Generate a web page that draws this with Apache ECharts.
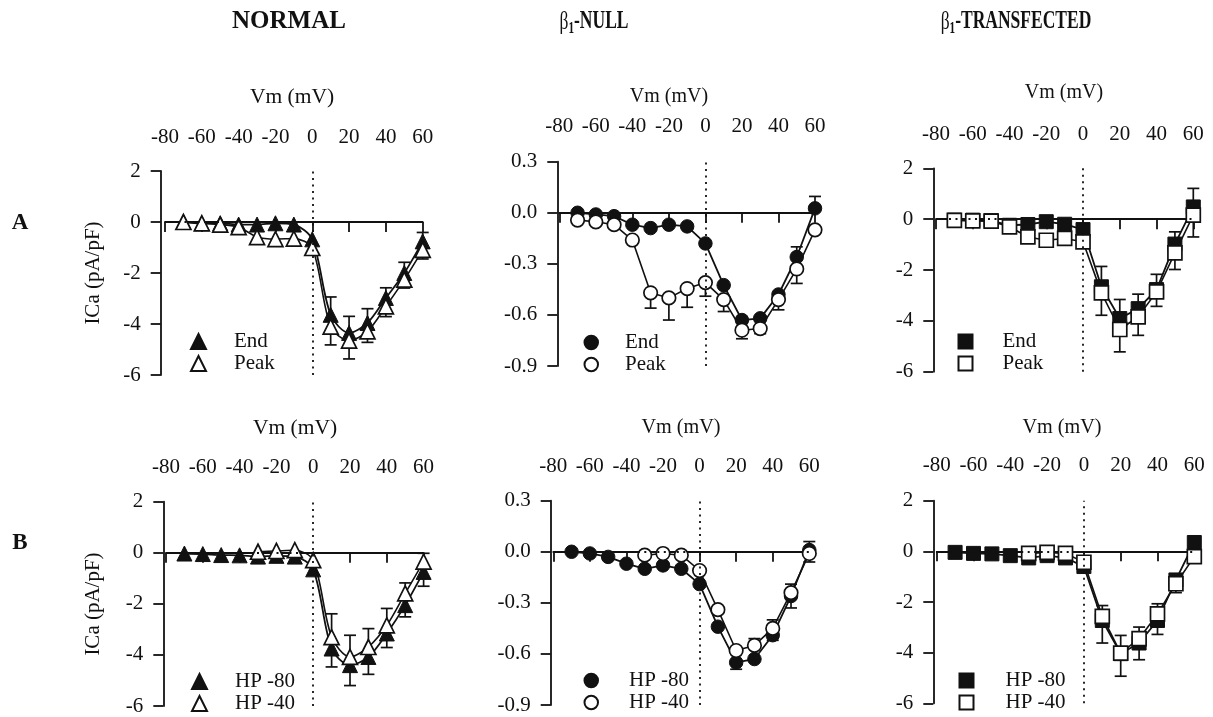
<!DOCTYPE html>
<html>
<head>
<meta charset="utf-8">
<script src="https://cdn.jsdelivr.net/npm/echarts@6/dist/echarts.min.js"></script>
<style>
  html, body { margin: 0; padding: 0; background: #fff; }
  #chart { width: 1213px; height: 717px; }
</style>
</head>
<body>
<div id="chart"></div>
<script>
// Test potentials (mV) and axis ticks
const voltages = [-70, -60, -50, -40, -30, -20, -10, 0, 10, 20, 30, 40, 50, 60];
const vmTicks = [-80, -60, -40, -20, 0, 20, 40, 60];
const densityTicks = [-6, -4, -2, 0, 2];
const nullTicks = [-0.9, -0.6, -0.3, 0.0, 0.3];

// Row A: end vs peak current density (pA/pF)
const normalEndA  = [0, -0.05, -0.05, -0.1, -0.1, -0.05, -0.1, -0.68, -3.64, -4.35, -3.96, -2.98, -2.0, -0.76];
const normalPeakA = [0, -0.05, -0.1, -0.2, -0.59, -0.67, -0.65, -1.02, -4.1, -4.65, -4.29, -3.31, -2.26, -1.09];
const normalEndErrA  = [null, null, null, null, null, null, null, null, 0.7, 0.65, 0.56, 0.4, 0.42, 0.35];
const normalPeakErrA = [null, null, null, null, null, null, null, null, 0.72, 0.72, 0.43, 0.4, 0.33, 0.36];

const nullEndA  = [0.0, -0.01, -0.02, -0.07, -0.09, -0.07, -0.08, -0.18, -0.425, -0.63, -0.62, -0.48, -0.26, 0.026];
const nullPeakA = [-0.043, -0.053, -0.07, -0.16, -0.47, -0.5, -0.445, -0.41, -0.51, -0.69, -0.68, -0.51, -0.33, -0.1];
const nullEndErrA  = [null, null, null, null, null, null, null, null, null, null, null, null, 0.06, 0.07];
const nullPeakErrA = [null, null, null, null, 0.09, 0.13, 0.11, 0.08, 0.07, 0.05, 0.03, 0.06, 0.085, null];

const transEndA  = [-0.04, -0.04, -0.06, -0.24, -0.21, -0.1, -0.2, -0.41, -2.66, -3.91, -3.52, -2.77, -0.98, 0.48];
const transPeakA = [-0.05, -0.07, -0.08, -0.3, -0.7, -0.83, -0.76, -0.89, -2.9, -4.34, -3.84, -2.86, -1.33, 0.16];
const transEndErrA  = [null, null, null, null, null, null, null, null, 0.8, 0.75, 0.57, 0.6, 0.48, 0.73];
const transPeakErrA = [null, null, null, null, null, null, null, null, 0.88, 0.88, 0.73, 0.57, 0.65, 0.86];

// Row B: holding potential -80 vs -40 mV
const normalHp80B = [-0.03, -0.05, -0.09, -0.1, -0.15, -0.12, -0.15, -0.65, -3.75, -4.4, -4.08, -3.16, -2.05, -0.75];
const normalHp40B = [null, null, null, null, 0.04, 0.07, 0.1, -0.29, -3.3, -4.08, -3.69, -2.84, -1.59, -0.35];
const normalHp80ErrB = [null, null, null, null, null, null, null, null, 0.72, 0.8, 0.68, 0.55, 0.46, 0.56];
const normalHp40ErrB = [null, null, null, null, null, null, null, null, 0.91, 0.85, 0.72, 0.66, 0.41, 0.33];

const nullHp80B = [0.0, -0.01, -0.03, -0.07, -0.1, -0.08, -0.1, -0.19, -0.44, -0.65, -0.63, -0.49, -0.26, 0.01];
const nullHp40B = [null, null, null, null, -0.02, -0.01, -0.02, -0.11, -0.34, -0.58, -0.55, -0.45, -0.24, -0.01];
const nullHp80ErrB = [null, null, null, null, null, null, null, null, null, 0.04, null, 0.03, 0.07, 0.07];
const nullHp40ErrB = [null, null, null, null, null, null, null, null, null, null, 0.04, 0.05, 0.05, 0.07];

const transHp80B = [-0.04, -0.08, -0.1, -0.17, -0.26, -0.17, -0.26, -0.6, -2.73, -4.04, -3.62, -2.73, -1.13, 0.35];
const transHp40B = [null, null, null, null, -0.08, -0.04, -0.08, -0.43, -2.57, -4.02, -3.45, -2.47, -1.28, -0.21];
const transHp80ErrB = [null, null, null, null, null, null, null, null, 0.89, 0.89, 0.66, 0.55, 0.5, null];
const transHp40ErrB = [null, null, null, null, null, null, null, null, 0.43, 0.7, 0.46, 0.4, null, null];

const SERIF = '"Liberation Serif", "Times New Roman", Times, serif';
const INK = '#111';

// Panel layout (pixel boxes of each plotting area), marker styles and key placement
const panels = [
  { grid: [165, 171, 257.7, 204], yOff: 4.3, xOff: 11.7, ticks: densityTicks, sym: 'triangle', size: 15, smooth: 0.3,
    filled: ['End', normalEndA, normalEndErrA, 1], open: ['Peak', normalPeakA, normalPeakErrA, -1],
    key: { left: 190, top: 331 }, keyPad: 23 },
  { grid: [559.3, 161.7, 255.7, 204.3], yOff: 2, xOff: 14, ticks: nullTicks, sym: 'circle', size: 13.5, smooth: 0,
    filled: ['End', nullEndA, nullEndErrA, 1], open: ['Peak', nullPeakA, nullPeakErrA, -1],
    key: { left: 583.5, top: 332 }, keyPad: 22 },
  { grid: [936, 168.3, 257.3, 203.4], yOff: 2.7, xOff: 12.3, ticks: densityTicks, sym: 'rect', size: 14, smooth: 0,
    filled: ['End', transEndA, transEndErrA, 1], open: ['Peak', transPeakA, transPeakErrA, -1],
    key: { left: 957.5, top: 331 }, keyPad: 25 },
  { grid: [166, 501.7, 257.6, 204.3], yOff: 2.7, xOff: 12.4, ticks: densityTicks, sym: 'triangle', size: 15, smooth: 0.3,
    filled: ['HP -80', normalHp80B, normalHp80ErrB, -1], open: ['HP -40', normalHp40B, normalHp40ErrB, 1],
    key: { left: 191, bottom: 3 }, keyPad: 23 },
  { grid: [553.3, 500.7, 256, 204.3], yOff: 2.6, xOff: 12.4, ticks: nullTicks, sym: 'circle', size: 13.5, smooth: 0,
    filled: ['HP -80', nullHp80B, nullHp80ErrB, -1], open: ['HP -40', nullHp40B, nullHp40ErrB, 1],
    key: { left: 583.5, bottom: 4 }, keyPad: 26 },
  { grid: [936.7, 500.7, 257.6, 202.6], yOff: 3.4, xOff: 14, ticks: densityTicks, sym: 'rect', size: 14, smooth: 0,
    filled: ['HP -80', transHp80B, transHp80ErrB, -1], open: ['HP -40', transHp40B, transHp40ErrB, 1],
    key: { left: 958.5, bottom: 4 }, keyPad: 27 }
];

function pairs(vals) {
  return voltages.map((v, k) => [v, vals[k]]);
}
function errPoints(vals, errs, dir) {
  const out = [];
  vals.forEach((v, k) => {
    if (v != null && errs[k] != null) out.push([voltages[k], v, errs[k], dir]);
  });
  return out;
}
function renderErr(params, api) {
  const x = api.value(0), y = api.value(1), e = api.value(2), d = api.value(3);
  const p0 = api.coord([x, y]);
  const p1 = api.coord([x, y + d * e]);
  const hw = 6;
  const st = { stroke: INK, lineWidth: 1.7 };
  return {
    type: 'group',
    children: [
      { type: 'line', shape: { x1: p0[0], y1: p0[1], x2: p1[0], y2: p1[1] }, style: st },
      { type: 'line', shape: { x1: p1[0] - hw, y1: p1[1], x2: p1[0] + hw, y2: p1[1] }, style: st }
    ]
  };
}

const grids = [], xAxes = [], yAxes = [], series = [], legends = [];
const dotted = { color: INK, width: 1.8, type: [2, 4.5] };

panels.forEach((p, i) => {
  grids.push({ left: p.grid[0], top: p.grid[1], width: p.grid[2], height: p.grid[3] });
  xAxes.push({
    type: 'value', gridIndex: i, position: 'top', offset: p.xOff,
    min: vmTicks[0], max: vmTicks[vmTicks.length - 1], interval: vmTicks[1] - vmTicks[0],
    axisLine: { show: true, lineStyle: { color: INK, width: 1.8 } },
    axisTick: { show: true, inside: true, length: 10, lineStyle: { color: INK, width: 1.8 } },
    axisLabel: { color: INK, fontFamily: SERIF, fontSize: 21, margin: 11 },
    splitLine: { show: false }
  });
  const nullScale = p.ticks === nullTicks;
  yAxes.push({
    type: 'value', gridIndex: i, position: 'left', offset: p.yOff,
    min: p.ticks[0], max: p.ticks[p.ticks.length - 1], interval: p.ticks[1] - p.ticks[0],
    axisLine: { show: true, onZero: false, lineStyle: { color: INK, width: 1.8 } },
    axisTick: { show: true, inside: false, length: 10, lineStyle: { color: INK, width: 1.8 } },
    axisLabel: {
      color: INK, fontFamily: SERIF, fontSize: 21, margin: 20,
      formatter: v => nullScale ? (Math.abs(v) < 1e-9 ? '0.0' : v.toFixed(1)) : String(Math.round(v))
    },
    splitLine: { show: false }
  });

  const fName = p.filled[0] + '#' + i;
  const oName = p.open[0] + '#' + i;

  series.push({
    type: 'custom', xAxisIndex: i, yAxisIndex: i, z: 2, silent: true,
    renderItem: renderErr, data: errPoints(p.filled[1], p.filled[2], p.filled[3])
  });
  series.push({
    type: 'custom', xAxisIndex: i, yAxisIndex: i, z: 2, silent: true,
    renderItem: renderErr, data: errPoints(p.open[1], p.open[2], p.open[3])
  });
  series.push({
    name: fName, type: 'line', xAxisIndex: i, yAxisIndex: i, z: 3,
    data: pairs(p.filled[1]), symbol: p.sym, symbolSize: p.size, smooth: p.smooth,
    itemStyle: { color: INK, borderColor: INK, borderWidth: 1 },
    lineStyle: { color: INK, width: 1.8 },
    markLine: {
      silent: true, symbol: 'none', label: { show: false }, lineStyle: dotted,
      data: [{ yAxis: 0 }, { xAxis: 0 }]
    }
  });
  series.push({
    name: oName, type: 'line', xAxisIndex: i, yAxisIndex: i, z: 4,
    data: pairs(p.open[1]), symbol: p.sym, symbolSize: p.size, smooth: p.smooth,
    itemStyle: { color: '#fff', borderColor: INK, borderWidth: 1.7 },
    lineStyle: { color: INK, width: 1.6 }
  });

  legends.push(Object.assign({
    orient: 'vertical', padding: 0,
    itemWidth: p.size, itemHeight: p.size, itemGap: 1, selectedMode: false,
    data: [{ name: fName, icon: p.sym }, { name: oName, icon: p.sym }],
    formatter: n => n.split('#')[0],
    textStyle: { fontFamily: SERIF, fontSize: 21, color: INK, lineHeight: 20, padding: [0, 0, 0, p.keyPad] }
  }, p.key));
});

// Column titles, axis names and row letters
const graphics = [];
function titleText(x, label, withBeta, squeeze) {
  const rich = {
    g: { fontFamily: SERIF, fontSize: 25, fontWeight: 'bold', lineHeight: 30, fill: INK },
    b: { fontFamily: SERIF, fontSize: 25, lineHeight: 30, fill: INK },
    s: { fontFamily: SERIF, fontSize: 16, fontWeight: 'bold', lineHeight: 12, verticalAlign: 'bottom', fill: INK }
  };
  return {
    type: 'text', x: x, y: 22, scaleX: squeeze,
    style: {
      text: withBeta ? '{b|β}{s|1}{g|' + label + '}' : '{g|' + label + '}',
      rich: rich, align: 'center', verticalAlign: 'middle'
    }
  };
}
graphics.push(titleText(289, 'NORMAL', false, 1));
graphics.push(titleText(594, '-NULL', true, 0.7));
graphics.push(titleText(1016, '-TRANSFECTED', true, 0.7));

const vmLabelPos = [[292, 97, 1], [669, 96, 0.93], [1064, 92, 0.93], [295, 428, 1], [681, 427, 0.94], [1062, 427, 0.94]];
vmLabelPos.forEach(pos => graphics.push({
  type: 'text', x: pos[0], y: pos[1], scaleX: pos[2],
  style: { text: 'Vm (mV)', fontFamily: SERIF, fontSize: 21.5, fill: INK, align: 'center', verticalAlign: 'middle' }
}));
[[93, 273], [93, 604]].forEach(pos => graphics.push({
  type: 'text', x: pos[0], y: pos[1], rotation: Math.PI / 2,
  style: { text: 'ICa (pA/pF)', fontFamily: SERIF, fontSize: 21, fill: INK, align: 'center', verticalAlign: 'middle' }
}));
[['A', 223], ['B', 543]].forEach(r => graphics.push({
  type: 'text', x: 20, y: r[1],
  style: { text: r[0], fontFamily: SERIF, fontSize: 23, fontWeight: 'bold', fill: INK, align: 'center', verticalAlign: 'middle' }
}));

const chart = echarts.init(document.getElementById('chart'), null, { renderer: 'canvas' });
chart.setOption({
  animation: false,
  backgroundColor: '#fff',
  grid: grids,
  xAxis: xAxes,
  yAxis: yAxes,
  legend: legends,
  graphic: graphics,
  series: series
});
</script>
</body>
</html>
